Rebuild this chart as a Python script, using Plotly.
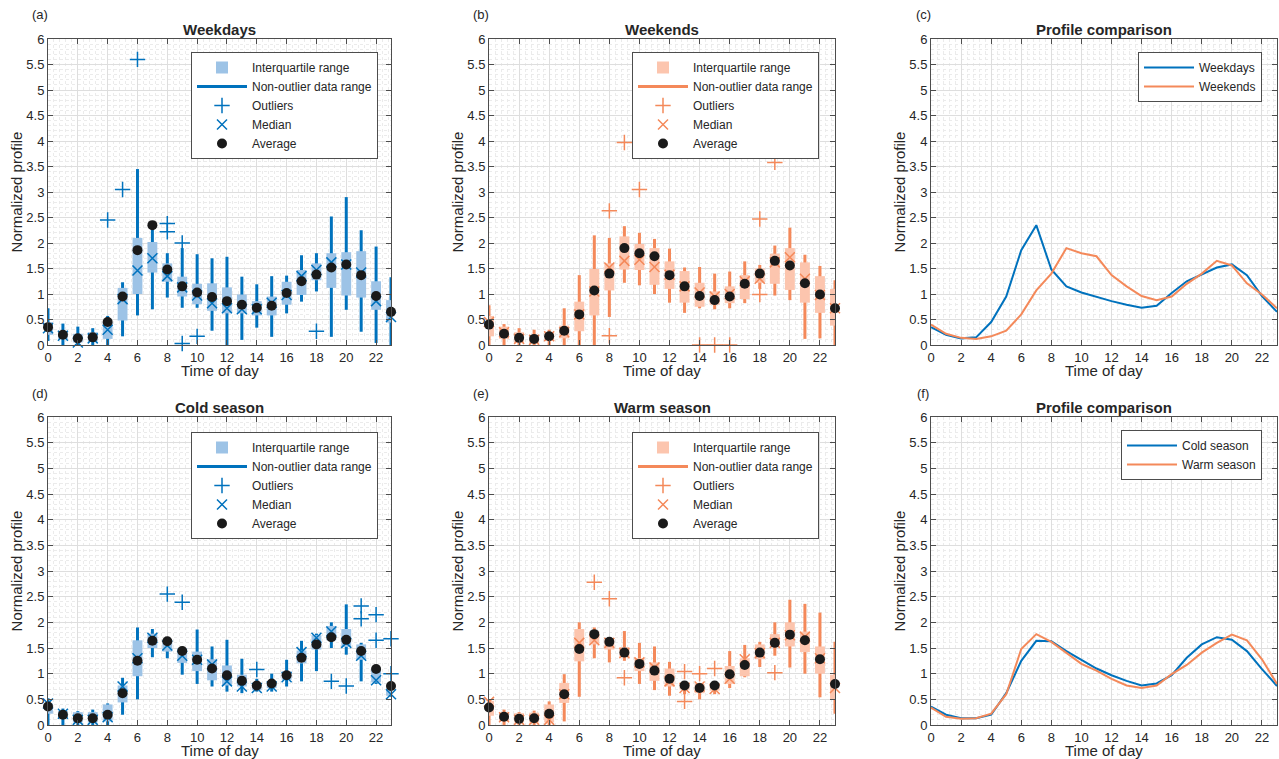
import plotly.graph_objects as go

W, H = 1279, 759
hours = list(range(24))

# ---------------- Weekdays ----------------
wd_avg = [0.35, 0.20, 0.13, 0.15, 0.45, 0.95, 1.86, 2.35, 1.48, 1.15, 1.03, 0.94, 0.86, 0.79, 0.73, 0.77, 1.02, 1.25, 1.38, 1.52, 1.58, 1.37, 0.96, 0.65]
wd_med = [0.33, 0.18, 0.05, 0.13, 0.30, 0.90, 1.46, 1.70, 1.35, 1.13, 0.97, 0.82, 0.72, 0.70, 0.70, 0.83, 0.98, 1.35, 1.47, 1.62, 1.58, 1.42, 0.86, 0.55]
wd_q1 = [0.20, 0.12, 0.05, 0.07, 0.12, 0.48, 1.00, 1.42, 1.24, 0.95, 0.80, 0.67, 0.62, 0.62, 0.58, 0.58, 0.79, 0.98, 1.27, 1.12, 0.97, 0.93, 0.69, 0.44]
wd_q3 = [0.45, 0.28, 0.22, 0.25, 0.45, 1.12, 2.10, 2.02, 1.60, 1.34, 1.20, 1.21, 1.13, 0.99, 0.86, 0.95, 1.24, 1.47, 1.60, 1.80, 1.82, 1.84, 1.25, 0.88]
wd_lo = [0.08, 0.00, 0.00, 0.00, 0.00, 0.17, 0.58, 0.70, 0.93, 0.73, 0.73, 0.28, 0.00, 0.10, 0.34, 0.16, 0.62, 0.85, 1.05, 0.16, 0.69, 0.26, 0.04, 0.00]
wd_hi = [0.72, 0.42, 0.36, 0.33, 0.57, 1.23, 3.45, 2.33, 1.80, 1.90, 1.78, 1.70, 1.73, 1.34, 1.19, 1.35, 1.36, 1.76, 1.80, 2.52, 2.90, 2.25, 1.93, 1.33]
wd_out_x = [4, 5, 6, 8, 8, 9, 9, 10, 18]
wd_out_y = [2.45, 3.05, 5.60, 2.38, 2.22, 2.00, 0.03, 0.17, 0.27]

# ---------------- Weekends ----------------
we_avg = [0.40, 0.22, 0.14, 0.12, 0.17, 0.28, 0.60, 1.07, 1.40, 1.90, 1.80, 1.74, 1.37, 1.15, 0.96, 0.88, 0.95, 1.20, 1.40, 1.65, 1.56, 1.21, 0.99, 0.72]
we_med = [0.45, 0.25, 0.12, 0.10, 0.17, 0.25, 0.60, 1.05, 1.52, 1.65, 1.67, 1.53, 1.38, 1.15, 1.03, 0.95, 1.00, 1.25, 1.30, 1.62, 1.72, 1.30, 0.98, 0.72]
we_q1 = [0.17, 0.12, 0.05, 0.03, 0.08, 0.13, 0.27, 0.58, 1.07, 1.48, 1.47, 1.18, 1.10, 0.83, 0.75, 0.79, 0.82, 0.90, 1.22, 1.20, 1.08, 0.83, 0.63, 0.38]
we_q3 = [0.57, 0.36, 0.25, 0.20, 0.25, 0.38, 0.85, 1.49, 1.60, 2.13, 1.98, 1.90, 1.64, 1.45, 1.22, 1.05, 1.15, 1.37, 1.50, 1.79, 1.90, 1.62, 1.35, 1.10]
we_lo = [0.00, 0.00, 0.00, 0.00, 0.00, 0.00, 0.00, 0.00, 0.55, 1.22, 1.17, 1.00, 0.83, 0.63, 0.72, 0.70, 0.72, 0.82, 1.10, 0.97, 0.88, 0.12, 0.13, 0.00]
we_hi = [0.78, 0.41, 0.33, 0.30, 0.30, 0.72, 1.37, 2.15, 2.10, 2.33, 2.20, 2.08, 1.89, 1.52, 1.53, 1.40, 1.44, 1.64, 1.57, 1.95, 2.30, 1.77, 1.55, 1.27]
we_out_x = [8, 8, 9, 10, 14, 15, 16, 18, 18, 19]
we_out_y = [2.63, 0.18, 3.97, 3.05, 0.00, 0.00, 0.00, 2.47, 0.99, 3.58]

# ---------------- Cold season ----------------
cs_avg = [0.36, 0.20, 0.13, 0.13, 0.20, 0.62, 1.25, 1.64, 1.63, 1.44, 1.27, 1.10, 0.97, 0.86, 0.77, 0.81, 0.97, 1.31, 1.57, 1.71, 1.66, 1.44, 1.09, 0.76]
cs_med = [0.42, 0.22, 0.10, 0.10, 0.15, 0.75, 1.30, 1.70, 1.55, 1.35, 1.27, 1.18, 0.85, 0.75, 0.72, 0.75, 0.93, 1.42, 1.70, 1.82, 1.60, 1.35, 0.87, 0.60]
cs_q1 = [0.22, 0.13, 0.05, 0.05, 0.07, 0.44, 0.95, 1.50, 1.43, 1.21, 1.05, 0.87, 0.77, 0.75, 0.68, 0.72, 0.88, 1.20, 1.47, 1.65, 1.52, 1.27, 0.83, 0.57]
cs_q3 = [0.42, 0.27, 0.25, 0.25, 0.40, 0.77, 1.65, 1.78, 1.63, 1.50, 1.43, 1.28, 1.16, 0.98, 0.80, 0.85, 1.05, 1.45, 1.75, 1.93, 1.87, 1.57, 1.10, 0.72]
cs_lo = [0.00, 0.00, 0.00, 0.00, 0.00, 0.20, 0.50, 1.32, 1.30, 0.98, 0.80, 0.75, 0.65, 0.62, 0.65, 0.65, 0.75, 0.85, 1.05, 1.50, 1.37, 0.85, 0.80, 0.55]
cs_hi = [0.52, 0.32, 0.27, 0.30, 0.42, 0.92, 1.90, 1.87, 1.70, 1.52, 1.86, 1.53, 1.66, 1.29, 0.90, 1.00, 1.27, 1.64, 1.78, 2.00, 2.35, 1.60, 1.12, 0.80]
cs_out_x = [8, 9, 14, 19, 20, 21, 21, 22, 22, 23, 23]
cs_out_y = [2.55, 2.39, 1.08, 0.85, 0.76, 2.32, 2.07, 2.15, 1.65, 1.68, 1.00]

# ---------------- Warm season ----------------
ws_avg = [0.34, 0.16, 0.12, 0.13, 0.22, 0.60, 1.48, 1.77, 1.62, 1.41, 1.19, 1.06, 0.90, 0.77, 0.72, 0.77, 0.99, 1.17, 1.41, 1.60, 1.76, 1.65, 1.28, 0.80]
ws_med = [0.45, 0.15, 0.10, 0.10, 0.10, 0.60, 1.60, 1.65, 1.60, 1.40, 1.22, 1.12, 0.85, 0.72, 0.75, 0.70, 0.90, 1.28, 1.40, 1.60, 1.75, 1.72, 1.30, 0.72]
ws_q1 = [0.18, 0.07, 0.05, 0.05, 0.05, 0.43, 1.24, 1.57, 1.47, 1.32, 1.05, 0.86, 0.75, 0.69, 0.62, 0.67, 0.80, 0.95, 1.28, 1.55, 1.53, 1.42, 1.00, 0.50]
ws_q3 = [0.47, 0.25, 0.23, 0.24, 0.40, 0.82, 1.87, 1.83, 1.66, 1.52, 1.30, 1.22, 1.10, 0.83, 0.80, 0.82, 1.15, 1.30, 1.57, 1.77, 2.00, 1.82, 1.53, 0.98]
ws_lo = [0.00, 0.00, 0.00, 0.00, 0.00, 0.07, 0.55, 1.30, 1.22, 1.25, 0.80, 0.68, 0.57, 0.60, 0.50, 0.60, 0.72, 0.93, 1.13, 1.35, 1.12, 1.00, 0.54, 0.22]
ws_hi = [0.50, 0.30, 0.25, 0.28, 0.46, 0.99, 2.00, 1.90, 1.70, 1.83, 1.60, 1.53, 1.23, 0.85, 0.82, 0.85, 1.44, 1.56, 1.62, 2.00, 2.44, 2.36, 2.19, 1.62]
ws_out_x = [7, 8, 9, 13, 13, 14, 15, 19]
ws_out_y = [2.78, 2.46, 0.92, 1.04, 0.46, 1.00, 1.10, 1.02]

# ---------------- Style ----------------
BLUE = "#0072BD"
BLUE_FILL = "#9DC3E6"
ORANGE = "#F4895A"
ORANGE_FILL = "#FCC5AE"
TXT = "#262626"
FONT = "Liberation Sans, Arial, sans-serif"

col_dom = [[48 / W, 391 / W], [489 / W, 835 / W], [931 / W, 1277 / W]]
row_dom = [[1 - 345 / H, 1 - 39 / H], [1 - 725 / H, 1 - 417 / H]]

fig = go.Figure()


def ax_names(i):
    return ("x" if i == 1 else f"x{i}"), ("y" if i == 1 else f"y{i}")


def add_box_panel(i, avg, med, q1, q3, lo, hi, ox, oy, lc, fc, leg):
    xa, ya = ax_names(i)
    fig.add_trace(go.Bar(x=hours, y=[h - l for h, l in zip(hi, lo)], base=lo, width=0.2,
                         marker=dict(color=lc, line=dict(width=0)), showlegend=False,
                         xaxis=xa, yaxis=ya, hoverinfo="skip"))
    fig.add_trace(go.Bar(x=hours, y=[b - a for a, b in zip(q1, q3)], base=q1, width=0.66,
                         marker=dict(color=fc, line=dict(width=0)), name="Interquartile range",
                         legend=leg, xaxis=xa, yaxis=ya))
    fig.add_trace(go.Scatter(x=[None], y=[None], mode="lines", line=dict(color=lc, width=3),
                             name="Non-outlier data range", legend=leg, xaxis=xa, yaxis=ya))
    fig.add_trace(go.Scatter(x=ox, y=oy, mode="markers", cliponaxis=False,
                             marker=dict(symbol="cross-thin", size=11, color=lc, line=dict(color=lc, width=1.5)),
                             name="Outliers", legend=leg, xaxis=xa, yaxis=ya))
    fig.add_trace(go.Scatter(x=hours, y=med, mode="markers", cliponaxis=False,
                             marker=dict(symbol="x-thin", size=10, color=lc, line=dict(color=lc, width=1.5)),
                             name="Median", legend=leg, xaxis=xa, yaxis=ya))
    fig.add_trace(go.Scatter(x=hours, y=avg, mode="markers", cliponaxis=False,
                             marker=dict(symbol="circle", size=10, color="#1A1A1A"),
                             name="Average", legend=leg, xaxis=xa, yaxis=ya))


def add_compare_panel(i, a, b, na, nb, leg):
    xa, ya = ax_names(i)
    fig.add_trace(go.Scatter(x=hours, y=a, mode="lines", line=dict(color=BLUE, width=2),
                             name=na, legend=leg, xaxis=xa, yaxis=ya))
    fig.add_trace(go.Scatter(x=hours, y=b, mode="lines", line=dict(color=ORANGE, width=2),
                             name=nb, legend=leg, xaxis=xa, yaxis=ya))


add_box_panel(1, wd_avg, wd_med, wd_q1, wd_q3, wd_lo, wd_hi, wd_out_x, wd_out_y, BLUE, BLUE_FILL, "legend")
add_box_panel(2, we_avg, we_med, we_q1, we_q3, we_lo, we_hi, we_out_x, we_out_y, ORANGE, ORANGE_FILL, "legend2")
add_compare_panel(3, wd_avg, we_avg, "Weekdays", "Weekends", "legend3")
add_box_panel(4, cs_avg, cs_med, cs_q1, cs_q3, cs_lo, cs_hi, cs_out_x, cs_out_y, BLUE, BLUE_FILL, "legend4")
add_box_panel(5, ws_avg, ws_med, ws_q1, ws_q3, ws_lo, ws_hi, ws_out_x, ws_out_y, ORANGE, ORANGE_FILL, "legend5")
add_compare_panel(6, cs_avg, ws_avg, "Cold season", "Warm season", "legend6")

titles = ["Weekdays", "Weekends", "Profile comparison", "Cold season", "Warm season", "Profile comparison"]
labels = ["(a)", "(b)", "(c)", "(d)", "(e)", "(f)"]

layout = dict(
    width=W, height=H, margin=dict(l=0, r=0, t=0, b=0, autoexpand=False),
    paper_bgcolor="white", plot_bgcolor="white", barmode="overlay",
    font=dict(family=FONT, color=TXT, size=13),
    annotations=[],
)

axis_common = dict(
    showline=True, linecolor="#4D4D4D", linewidth=1, mirror="ticks",
    ticks="inside", ticklen=5, tickcolor="#4D4D4D", automargin=False,
    showgrid=True, gridcolor="#DEDEDE", gridwidth=1, zeroline=False,
    tickfont=dict(size=13, color=TXT, family=FONT),
)

for i in range(1, 7):
    r = 0 if i <= 3 else 1
    c = (i - 1) % 3
    xk = "xaxis" if i == 1 else f"xaxis{i}"
    yk = "yaxis" if i == 1 else f"yaxis{i}"
    xa, ya = ax_names(i)
    layout[xk] = dict(axis_common, domain=col_dom[c], anchor=ya, range=[0, 23], tick0=0, dtick=2,
                      minor=dict(tick0=0, dtick=0.4, showgrid=True, gridcolor="#EBEBEB", griddash="dot", gridwidth=1))
    layout[yk] = dict(axis_common, domain=row_dom[r], anchor=xa, range=[0, 6], tick0=0, dtick=0.5,
                      minor=dict(tick0=0, dtick=0.1, showgrid=True, gridcolor="#EBEBEB", griddash="dot", gridwidth=1),
                      title=dict(text="Normalized profile", font=dict(size=15, color=TXT, family=FONT), standoff=0))
    cx = (col_dom[c][0] + col_dom[c][1]) / 2
    ty = row_dom[r][1] + 10 / H
    layout["annotations"].append(dict(text="<b>" + titles[i - 1] + "</b>", x=cx, y=ty, xref="paper", yref="paper",
                                      xanchor="center", yanchor="middle", showarrow=False,
                                      font=dict(size=15, color=TXT, family=FONT)))
    layout["annotations"].append(dict(text="Time of day", x=cx, y=row_dom[r][0] - 25 / H, xref="paper",
                                      yref="paper", xanchor="center", yanchor="middle", showarrow=False,
                                      font=dict(size=15, color=TXT, family=FONT)))
    layout["annotations"].append(dict(text=labels[i - 1], x=col_dom[c][0] - 8 / W, y=row_dom[r][1] + 24 / H,
                                      xref="paper", yref="paper", xanchor="center", yanchor="middle",
                                      showarrow=False, font=dict(size=13, color=TXT, family=FONT)))

leg_common = dict(bgcolor="white", bordercolor="#4D4D4D", borderwidth=1, traceorder="normal",
                  font=dict(size=12, color=TXT, family=FONT), itemwidth=50, tracegroupgap=0,
                  xanchor="right", yanchor="top")
layout["legend"] = dict(leg_common, x=378 / W, y=1 - 52 / H)
layout["legend2"] = dict(leg_common, x=819 / W, y=1 - 52 / H)
layout["legend3"] = dict(leg_common, x=1262 / W, y=1 - 52 / H)
layout["legend4"] = dict(leg_common, x=378 / W, y=1 - 432 / H)
layout["legend5"] = dict(leg_common, x=819 / W, y=1 - 432 / H)
layout["legend6"] = dict(leg_common, x=1262 / W, y=1 - 430 / H)

fig.update_layout(**layout)
fig.write_html("out.html", config={"displayModeBar": False},
               post_script="document.body.style.margin='0';document.body.style.overflow='hidden';")
